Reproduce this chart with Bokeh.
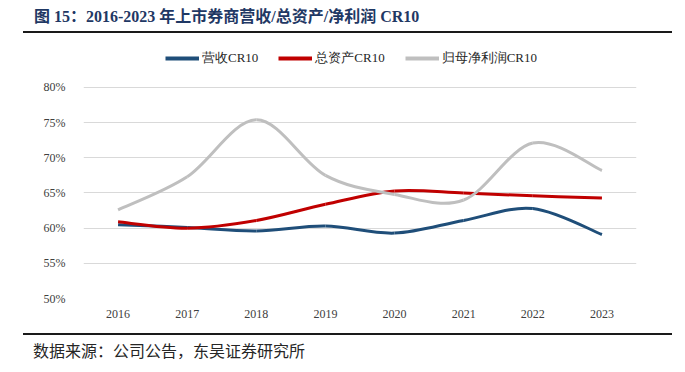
from bokeh.plotting import figure
from bokeh.models import (Range1d, FixedTicker, PrintfTickFormatter,
                          Legend, LegendItem, ColumnDataSource, Div)
from bokeh.layouts import column
from bokeh.embed import file_html
from bokeh.resources import INLINE

# ---------------- data ----------------
years = [2016, 2017, 2018, 2019, 2020, 2021, 2022, 2023]
revenue_cr10 = [60.5, 60.1, 59.6, 60.3, 59.3, 61.1, 62.8, 59.1]
assets_cr10 = [60.9, 60.0, 61.1, 63.4, 65.3, 65.0, 64.6, 64.3]
profit_cr10 = [62.6, 67.3, 75.4, 67.5, 64.8, 64.0, 72.1, 68.2]
series_names = ["营收CR10", "总资产CR10", "归母净利润CR10"]
y_ticks = [50, 55, 60, 65, 70, 75, 80]

title_text = "图 15：2016-2023 年上市券商营收/总资产/净利润 CR10"
source_text = "数据来源：公司公告，东吴证券研究所"

colors = ["#1F4E79", "#C00000", "#BFBFBF"]

SERIF = "Liberation Serif"
CSS_SERIF = "'Liberation Serif', 'Noto Sans CJK SC', serif"


def smooth_segments(xs, ys, t=1.0 / 6.0):
    """Excel-like smoothed line: cubic bezier segments through the data points."""
    n = len(xs)
    d = dict(x0=[], y0=[], x1=[], y1=[], cx0=[], cy0=[], cx1=[], cy1=[])
    for i in range(n - 1):
        a = i - 1 if i > 0 else i
        b = i + 2 if i + 2 < n else i + 1
        d["x0"].append(xs[i]); d["y0"].append(ys[i])
        d["x1"].append(xs[i + 1]); d["y1"].append(ys[i + 1])
        d["cx0"].append(xs[i] + (xs[i + 1] - xs[a]) * t)
        d["cy0"].append(ys[i] + (ys[i + 1] - ys[a]) * t)
        d["cx1"].append(xs[i + 1] - (xs[b] - xs[i]) * t)
        d["cy1"].append(ys[i + 1] - (ys[b] - ys[i]) * t)
    return d


# frame spans from the legend row down to the 50% line; ticks only 50..80
p = figure(width=685, height=299, output_backend="svg", toolbar_location=None,
           x_range=Range1d(2015.5, 2023.5), y_range=Range1d(50, 85.97),
           min_border_left=83, min_border_right=49,
           min_border_top=11, min_border_bottom=35)
p.background_fill_color = "white"
p.border_fill_color = "white"
p.outline_line_color = None

for ax in (p.xaxis[0], p.yaxis[0]):
    ax.axis_line_color = None
    ax.major_tick_line_color = None
    ax.minor_tick_line_color = None
    ax.major_label_text_font = SERIF
    ax.major_label_text_font_size = "12px"
    ax.major_label_text_color = "#404040"
p.xaxis.ticker = FixedTicker(ticks=years)
p.xaxis.major_label_standoff = 5
p.yaxis.ticker = FixedTicker(ticks=y_ticks)
p.yaxis.formatter = PrintfTickFormatter(format="%d%%")
p.yaxis.major_label_standoff = 12

p.xgrid.grid_line_color = None
p.ygrid.grid_line_color = "#D9D9D9"
p.ygrid.grid_line_width = 1

legend_items = []
for name, vals, col in zip(series_names, [revenue_cr10, assets_cr10, profit_cr10], colors):
    src = ColumnDataSource(smooth_segments(years, vals))
    p.bezier(x0="x0", y0="y0", x1="x1", y1="y1", cx0="cx0", cy0="cy0",
             cx1="cx1", cy1="cy1", source=src, line_color=col, line_width=3)
    # single-point line: draws nothing on the plot, only supplies the legend glyph
    key = p.line(x=[years[0]], y=[vals[0]], line_color=col, line_width=4)
    legend_items.append(LegendItem(label=name, renderers=[key]))

legend = Legend(items=legend_items, orientation="horizontal",
                location=(82, 231), padding=0, margin=0, spacing=20,
                glyph_width=34, glyph_height=14, label_standoff=3,
                label_text_font=SERIF, label_text_font_size="13px",
                label_text_color="#262626", label_height=14,
                background_fill_alpha=0, border_line_color=None)
p.add_layout(legend, "center")

title_div = Div(
    text=(f'<div style="margin-left:23px;width:649px;height:33px;box-sizing:border-box;'
          f'border-bottom:2px solid #1a1a1a;padding-left:11px;padding-top:7px;line-height:20px;'
          f'font-family:{CSS_SERIF};font-size:16px;font-weight:bold;color:#1F3864;'
          f'white-space:nowrap;">{title_text}</div>'),
    width=685, height=34, margin=0)

source_div = Div(
    text=(f'<div style="margin-left:23px;width:649px;box-sizing:border-box;'
          f'border-top:2px solid #1a1a1a;padding-left:10px;padding-top:8px;line-height:18px;'
          f'font-family:{CSS_SERIF};font-size:16px;color:#262626;'
          f'white-space:nowrap;">{source_text}</div>'),
    width=685, height=39, margin=0)

layout = column(title_div, p, source_div, spacing=0)

open("out.html", "w").write(file_html(layout, INLINE))
